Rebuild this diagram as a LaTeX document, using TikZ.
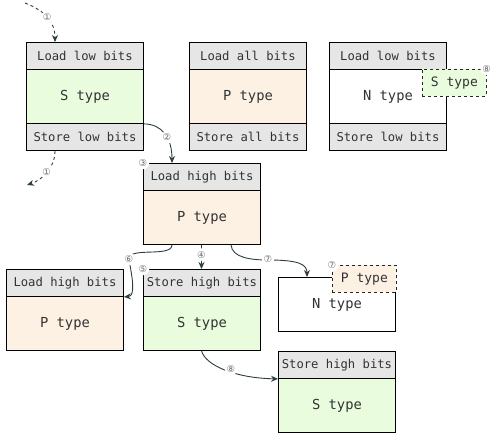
\documentclass[tikz,border=0pt]{standalone}
\usepackage{fontspec}
\setmonofont{DejaVu Sans Mono}
\newfontfamily\circfont{DejaVu Sans}
\usetikzlibrary{arrows.meta,calc}
\definecolor{hdrgray}{HTML}{E6E6E6}
\definecolor{sgreen}{HTML}{E9FCDD}
\definecolor{ppeach}{HTML}{FDF1E4}
\definecolor{wire}{HTML}{2D3E40}
\definecolor{tagnum}{HTML}{707070}
\tikzset{
  part/.style={draw=black, line width=0.9pt, minimum width=117pt, inner sep=0pt, anchor=north west, text=black!80},
  hdr/.style={part, fill=hdrgray, minimum height=27pt, font=\ttfamily\fontsize{12.2}{14}\selectfont},
  bodyS/.style={part, fill=sgreen, minimum height=54pt, font=\ttfamily\fontsize{13.8}{16}\selectfont},
  bodyP/.style={part, fill=ppeach, minimum height=54pt, font=\ttfamily\fontsize{13.8}{16}\selectfont},
  bodyN/.style={part, fill=white, minimum height=54pt, font=\ttfamily\fontsize{13.8}{16}\selectfont},
  tag/.style={draw=black!85, dashed, line width=0.7pt, inner sep=0pt, anchor=north west, minimum height=27pt, font=\ttfamily\fontsize{13}{15}\selectfont, text=black!80},
  num/.style={font=\circfont\fontsize{9.5}{9.5}\selectfont, text=tagnum, fill=white, circle, inner sep=0.5pt},
  flow/.style={draw=wire, line width=0.9pt, -{Stealth[length=7pt,width=6pt]}},
  loose/.style={flow, dashed},
}
\begin{document}
\begin{tikzpicture}[x=1pt,y=-1pt]
\fill[white] (0,0) rectangle (492,433);
\useasboundingbox (0,0) rectangle (492,433);

% top row
\node[hdr]   (a1) at (26,42)  {Load low bits};
\node[bodyS] (a2) at (26,69)  {S type};
\node[hdr]   (a3) at (26,123) {Store low bits};

\node[hdr]   (b1) at (189,42)  {Load all bits};
\node[bodyP] (b2) at (189,69)  {P type};
\node[hdr]   (b3) at (189,123) {Store all bits};

\node[hdr]   (c1) at (329,42)  {Load low bits};
\node[bodyN] (c2) at (329,69)  {N type};
\node[hdr]   (c3) at (329,123) {Store low bits};
\node[tag, fill=sgreen, minimum width=64pt] (ct) at (422,69) {S type};

% middle box
\node[hdr]   (d1) at (143,163) {Load high bits};
\node[bodyP] (d2) at (143,190) {P type};

% lower row
\node[hdr]   (e1) at (6,269) {Load high bits};
\node[bodyP] (e2) at (6,296) {P type};

\node[hdr]   (f1) at (143,269) {Store high bits};
\node[bodyS] (f2) at (143,296) {S type};

\node[bodyN] (g1) at (278,277) {N type};
\node[tag, fill=ppeach, minimum width=64pt] (gt) at (332,265) {P type};

\node[hdr]   (h1) at (278,351) {Store high bits};
\node[bodyS] (h2) at (278,378) {S type};

% connector ends
\coordinate (in0)  at (25,3);
\coordinate (in1)  at ($(a1.north west)+(29,0)$);
\coordinate (out1) at ($(a3.south west)+(29,0)$);
\coordinate (out0) at (27,185);
\coordinate (d1in) at ($(d1.north west)+(29,0)$);
\coordinate (dL)   at ($(d2.south west)+(29,0)$);
\coordinate (dM)   at ($(d2.south west)+(58.5,0)$);
\coordinate (dR)   at ($(d2.south west)+(88,0)$);
\coordinate (g1in) at ($(g1.north west)+(29,0)$);
\coordinate (fOut) at ($(f2.south west)+(58.5,0)$);

\draw[loose] (in0) .. controls (48,12) and (55,24) .. (in1)
  node[num, pos=0.45] {①};
\draw[loose] (out1) .. controls (55,168) and (42,180) .. (out0)
  node[num, pos=0.5] {①};
\draw[flow] (a2.south east) .. controls (162,124) and (172,138) .. (d1in)
  node[num, pos=0.58] {②};
\draw[flow] (dM) -- (f1.north -| dM) node[num, pos=0.4] {④};
\draw[flow] (dL) .. controls (172,258) and (126,246) .. (129,260)
  .. controls (132,276) and (136,296) .. (e1.south east);
\node[num] at (129,259) {⑥};
\draw[flow] (dR) .. controls (232,258) and (252,260) .. (268,260)
  .. controls (298,260) and (307,264) .. (g1in);
\node[num] at (268,259) {⑦};
\draw[flow] (fOut) .. controls (206,366) and (236,378) .. (h1.south west);
\node[num] at (231,369) {⑧};

% corner markers
\node[num] at (d1.north west) {③};
\node[num] at (f1.north west) {⑤};
\node[num] at (gt.north west) {⑦};
\node[num] at (ct.north east) {⑧};
\end{tikzpicture}
\end{document}
